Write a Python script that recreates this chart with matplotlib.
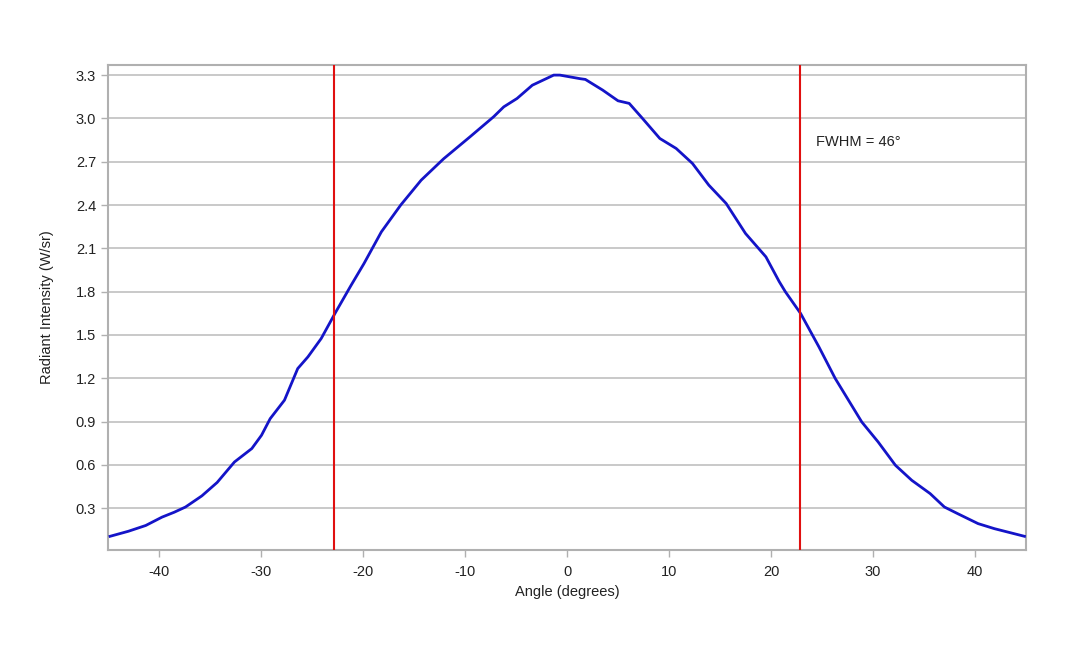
import matplotlib
matplotlib.use("Agg")
import matplotlib.pyplot as plt

plt.rcParams["font.family"] = ["Liberation Sans", "DejaVu Sans"]
plt.rcParams["axes.unicode_minus"] = False

# angle (deg) vs radiant intensity (W/sr)
angle = [
    -44.8, -43.0, -41.3, -39.7, -38.5, -37.4, -35.8, -34.3, -32.6, -30.9,
    -29.95, -29.1, -27.7, -26.4, -25.4, -24.1, -22.7, -21.2, -19.9, -18.2,
    -16.3, -14.3, -12.1, -9.5, -7.2, -6.2, -4.9, -3.4, -1.3, -0.7,
    1.3, 1.8, 3.5, 5.0, 6.1, 7.4, 9.1, 10.7, 12.3, 13.9,
    15.6, 17.5, 19.5, 20.8, 21.4, 22.9, 24.7, 26.3, 28.9, 30.5,
    32.2, 33.8, 35.6, 37.0, 38.3, 40.3, 41.9, 44.85,
]
intensity = [
    0.105, 0.14, 0.18, 0.238, 0.272, 0.308, 0.385, 0.478, 0.62, 0.713,
    0.805, 0.92, 1.048, 1.267, 1.348, 1.475, 1.655, 1.84, 1.995, 2.214,
    2.40, 2.572, 2.72, 2.873, 3.011, 3.08, 3.138, 3.23, 3.30, 3.30,
    3.275, 3.27, 3.196, 3.122, 3.104, 3.0, 2.861, 2.792, 2.688, 2.538,
    2.411, 2.203, 2.041, 1.87, 1.80, 1.649, 1.417, 1.198, 0.897, 0.759,
    0.597, 0.493, 0.401, 0.308, 0.262, 0.193, 0.158, 0.105,
]
fwhm_edges = [-22.8, 22.8]
yticks = [0.3, 0.6, 0.9, 1.2, 1.5, 1.8, 2.1, 2.4, 2.7, 3.0, 3.3]
xticks = [-40, -30, -20, -10, 0, 10, 20, 30, 40]

fig = plt.figure(figsize=(10.8, 6.48), dpi=100)
ax = fig.add_axes([0.1, 0.1512, 0.85, 0.7485])

ax.plot(angle, intensity, color="#1414c8", lw=2, zorder=3)
for xe in fwhm_edges:
    ax.axvline(xe, color="#e01010", lw=1.5, zorder=4)

ax.set_xlim(-45, 45)
ax.set_ylim(0.01, 3.37)
ax.set_yticks(yticks)
ax.set_yticklabels([f"{v:.1f}" for v in yticks])
ax.set_xticks(xticks)
ax.grid(axis="y", color="#c0c0c0", lw=1.2)
ax.set_axisbelow(True)
for s in ax.spines.values():
    s.set_color("#b0b0b0")
    s.set_linewidth(1.5)
ax.tick_params(colors="#b0b0b0", labelcolor="#222222", labelsize=10.5,
               length=5, width=1)
ax.tick_params(axis="x", pad=6)

ax.set_xlabel("Angle (degrees)", fontsize=10.5, color="#222222", labelpad=4)
ax.set_ylabel("Radiant Intensity (W/sr)", fontsize=10.5, color="#222222",
              labelpad=16)
ax.text(24.4, 2.84, "FWHM = 46°", fontsize=10.5, color="#222222",
        va="center", ha="left")

fig.savefig("out.png", dpi=100, facecolor="white")
